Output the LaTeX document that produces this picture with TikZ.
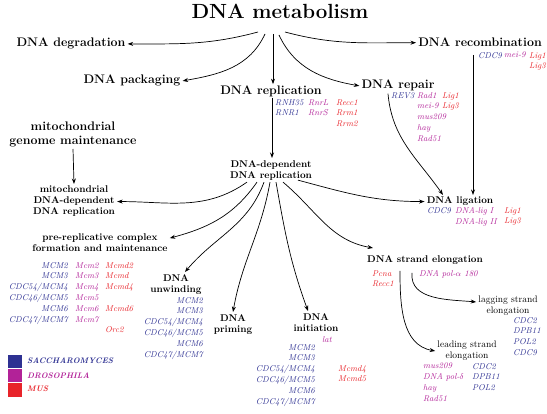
\documentclass[tikz,border=0pt]{standalone}
\usepackage{xcolor}
\usepackage{tikz}
\usetikzlibrary{arrows.meta}

\definecolor{sacblue}{RGB}{46,49,146}
\definecolor{dromag}{RGB}{178,34,152}
\definecolor{musred}{RGB}{232,36,42}

\begin{document}
\begin{tikzpicture}[x=1pt, y=1pt,
  arr/.style={-{Stealth[length=5.5pt, width=4pt]}, line width=0.7pt},
  lvlone/.style={font=\fontsize{12.4}{13.5}\selectfont\bfseries, inner sep=2pt},
  lvltwo/.style={font=\fontsize{9.8}{11}\selectfont\bfseries, inner sep=2pt, align=center},
  lvlthree/.style={font=\fontsize{9.5}{11}\selectfont, inner sep=2pt, align=center},
  gene/.style={font=\fontsize{8.5}{10.8}\selectfont\itshape, inner sep=0pt},
  sac/.style={gene, text=sacblue},
  dro/.style={gene, text=dromag},
  mus/.style={gene, text=musred},
  legend/.style={font=\fontsize{8}{10}\selectfont\bfseries\itshape, inner sep=0pt, anchor=base west}]
  \useasboundingbox (0,0) rectangle (547,-414);
  %% top level
  \node[font=\fontsize{20.5}{24}\selectfont\bfseries, anchor=base] (meta) at (280,-19) {DNA metabolism};
  \node[lvlone, anchor=base] (degr) at (71,-47) {DNA degradation};
  \node[lvlone, anchor=base] (pack) at (132,-84) {DNA packaging};
  \node[lvlone, anchor=base] (repl) at (271,-95) {DNA replication};
  \node[lvlone, anchor=base] (repair) at (398,-89) {DNA repair};
  \node[lvlone, anchor=base] (recomb) at (480,-47) {DNA recombination};
  \node[lvlone, anchor=north, align=center] (mitog) at (73,-120) {mitochondrial\\genome maintenance};
  %% second level
  \node[lvltwo, anchor=north] (dep) at (271,-158) {DNA-dependent\\DNA replication};
  \node[lvltwo, anchor=north] (mitorep) at (74,-184) {mitochondrial\\DNA-dependent\\DNA replication};
  \node[lvltwo, anchor=north] (prerep) at (100,-231) {pre-replicative complex\\formation and maintenance};
  \node[lvltwo, anchor=north] (unwind) at (176,-272) {DNA\\unwinding};
  \node[lvltwo, anchor=north] (priming) at (233,-312) {DNA\\priming};
  \node[lvltwo, anchor=north] (init) at (316,-311) {DNA\\initiation};
  \node[lvltwo, anchor=base] (lig) at (460,-204) {DNA ligation};
  \node[lvltwo, anchor=base] (elong) at (425,-263) {DNA strand elongation};
  \node[lvlthree, anchor=north] (lagging) at (508,-294) {lagging strand\\elongation};
  \node[lvlthree, anchor=north] (leading) at (467,-339) {leading strand\\elongation};
  %% genes: replication, recombination, repair
  \node[sac, anchor=north west, align=left] (replsac) at (275,-99) {RNH35\\RNR1};
  \node[dro, anchor=north west, align=left] (repldro) at (308,-99) {RnrL\\RnrS};
  \node[mus, anchor=north west, align=left] (replmus) at (336,-99) {Recc1\\Rrm1\\Rrm2};
  \node[sac, anchor=north west] (recsac) at (478,-52) {CDC9};
  \node[dro, anchor=north west] (recdro) at (504,-52) {mei-9};
  \node[mus, anchor=north west, align=left] (recmus) at (529,-52) {Lig1\\Lig3};
  \node[sac, anchor=north west] (repsac) at (391,-92) {REV3};
  \node[dro, anchor=north west, align=left] (repdro) at (417,-92) {Rad1\\mei-9\\mus209\\hay\\Rad51};
  \node[mus, anchor=north west, align=left] (repmus) at (442,-92) {Lig1\\Lig3};
  %% genes: ligation
  \node[sac, anchor=north west] (ligsac) at (427,-207) {CDC9};
  \node[dro, anchor=north west, align=left] (ligdro) at (455,-207) {DNA-lig I\\DNA-lig II};
  \node[mus, anchor=north east, align=right] (ligmus) at (521,-207) {Lig1\\Lig3};
  %% genes: pre-replicative complex
  \node[sac, anchor=north east, align=right] (presac) at (68,-262)
    {MCM2\\MCM3\\CDC54/MCM4\\CDC46/MCM5\\MCM6\\CDC47/MCM7};
  \node[dro, anchor=north west, align=left] (predro) at (75,-262)
    {Mcm2\\Mcm3\\Mcm4\\Mcm5\\Mcm6\\Mcm7};
  \node[mus, anchor=north west, align=left] (premus) at (105,-262)
    {Mcmd2\\Mcmd\\Mcmd4\\[10.8pt]Mcmd6\\[10.8pt]Orc2};
  %% genes: unwinding and initiation
  \node[sac, anchor=north east, align=right] (unwsac) at (203,-297)
    {MCM2\\MCM3\\CDC54/MCM4\\CDC46/MCM5\\MCM6\\CDC47/MCM7};
  \node[dro, anchor=north west] (initdro) at (322,-336) {lat};
  \node[sac, anchor=north east, align=right] (initsac) at (315,-344)
    {MCM2\\MCM3\\CDC54/MCM4\\CDC46/MCM5\\MCM6\\CDC47/MCM7};
  \node[mus, anchor=north west, align=left] (initmus) at (338,-365) {Mcmd4\\Mcmd5};
  %% genes: strand elongation
  \node[mus, anchor=north west, align=left] (elmus) at (372,-270) {Pcna\\Recc1};
  \node[dro, anchor=north west] (eldro) at (419,-270) {DNA pol-$\alpha$ 180};
  \node[sac, anchor=north west, align=left] (lagsac) at (513,-317) {CDC2\\DPB11\\POL2\\CDC9};
  \node[dro, anchor=north west, align=left] (leaddro) at (423,-363) {mus209\\DNA pol-$\delta$\\hay\\Rad51};
  \node[sac, anchor=north west, align=left] (leadsac) at (472,-363) {CDC2\\DPB11\\POL2};
  %% legend
  \fill[sacblue] (8,-355) rectangle (22,-368);
  \fill[dromag] (8,-369) rectangle (22,-382);
  \fill[musred] (8,-383) rectangle (22,-397);
  \node[legend, text=sacblue] (lsac) at (27,-364) {SACCHAROMYCES};
  \node[legend, text=dromag] (ldro) at (27,-379) {DROSOPHILA};
  \node[legend, text=musred] (lmus) at (27,-392) {MUS};
  %% arrows out of the top
  \coordinate (mdeg) at (258,-32);
  \coordinate (mpack) at (265,-34);
  \coordinate (mrep) at (273,-34);
  \coordinate (mrepair) at (279,-35);
  \coordinate (mrec) at (285,-32);
  \draw[arr] (mdeg) to[out=195, in=0] (degr.east);
  \draw[arr] (mpack) to[out=245, in=10] (pack.east);
  \draw[arr] (mrep) -- (mrep |- repl.north);
  \draw[arr] (mrepair) to[out=-65, in=170] (repair.west);
  \draw[arr] (mrec) to[out=-15, in=180] (recomb.west);
  %% replication branches
  \coordinate (rdown) at (272,-98);
  \draw[arr] (rdown) -- (rdown |- dep.north);
  \draw[arr] (mitog.south) -- (mitorep.north);
  \draw[arr] ([xshift=-24pt]dep.south) to[out=215, in=0] (mitorep.east);
  \draw[arr] ([xshift=-14pt]dep.south) to[out=235, in=15] ([yshift=4pt]prerep.east);
  \draw[arr] ([xshift=-7pt]dep.south) to[out=250, in=50] ([xshift=9pt]unwind.north);
  \draw[arr] ([xshift=-1pt]dep.south) to[out=260, in=80] (priming.north);
  \draw[arr] ([xshift=5pt]dep.south) to[out=-80, in=110] ([xshift=-8pt]init.north);
  \draw[arr] ([xshift=12pt]dep.south) to[out=-40, in=170] ([xshift=-52pt,yshift=6pt]elong.north);
  \draw[arr] ([xshift=27pt,yshift=2pt]dep.south) to[out=-15, in=180] (lig.west);
  %% repair and recombination into ligation
  \draw[arr] ([xshift=-10pt]repair.south) to[out=-85, in=125] ([xshift=-17pt]lig.north);
  \coordinate (rline) at (473,-55);
  \draw[arr] (rline) -- (rline |- lig.north);
  %% strand elongation branches
  \coordinate (elA) at (412,-273);
  \coordinate (elB) at (400,-271);
  \draw[arr] (elA) to[out=-95, in=175] ([yshift=4pt]lagging.west);
  \draw[arr] (elB) to[out=-90, in=170] (leading.west);
\end{tikzpicture}
\end{document}
